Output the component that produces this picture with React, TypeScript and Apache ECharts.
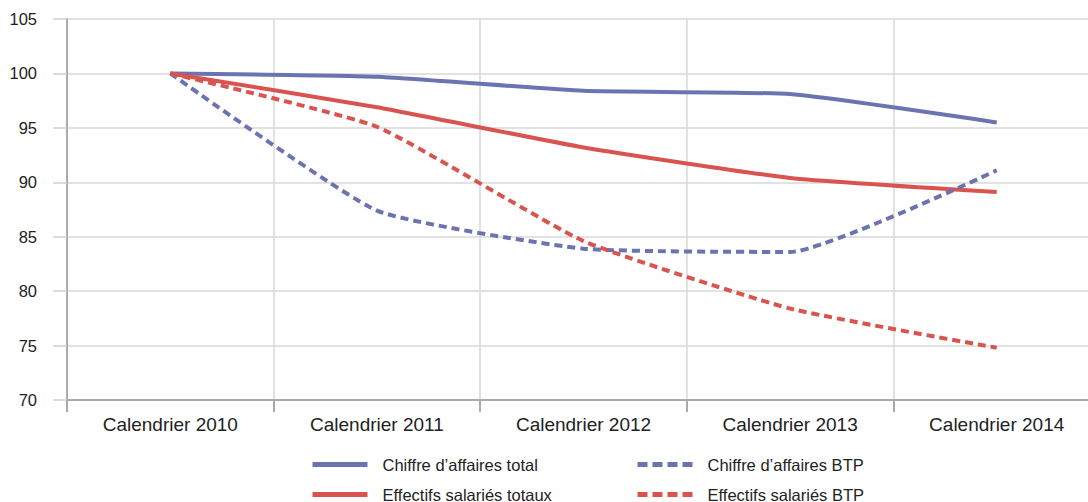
import React, { useEffect, useRef } from "react";
import * as echarts from "echarts";

const categories = ["Calendrier 2010", "Calendrier 2011", "Calendrier 2012", "Calendrier 2013", "Calendrier 2014"];
const caTotal = [100, 99.7, 98.4, 98.1, 95.5];
const effTotal = [100, 96.9, 93.2, 90.4, 89.1];
const caBTP = [100, 87.4, 83.9, 83.6, 91.1];
const effBTP = [100, 95.1, 84.6, 78.4, 74.8];

const names = ["Chiffre d’affaires total", "Effectifs salariés totaux", "Chiffre d’affaires BTP", "Effectifs salariés BTP"];
const BLUE = "#6b74b1";
const RED = "#d9544f";
const FONT = "Liberation Sans";

export default function App() {
  const ref = useRef<HTMLDivElement>(null);
  useEffect(() => {
    document.body.style.margin = "0";
    document.body.style.overflow = "hidden";
    const chart = echarts.init(ref.current!, null, { renderer: "svg" });
    const mkSeries = (name: string, data: number[], color: string, dashed: boolean) => ({
      name,
      type: "line",
      data,
      symbol: "none",
      smooth: 0.15,
      lineStyle: { color, width: 4, type: dashed ? [8, 5] : "solid", cap: "butt" },
      itemStyle: { color },
    });
    const mkLegend = (name: string, left: number, top: number, dashed: boolean) => ({
      data: [name],
      left,
      top,
      itemWidth: 55,
      itemHeight: 14,
      lineStyle: { width: 5, type: dashed ? [10, 5] : "solid" },
      itemStyle: { opacity: 0 },
      textStyle: { fontFamily: FONT, fontSize: 16.5, color: "#222", padding: [0, 0, 0, 10] },
      padding: 0,
      selectedMode: false,
    });
    chart.setOption({
      animation: false,
      grid: { left: 67, top: 19, right: 0, bottom: 102, containLabel: false },
      xAxis: {
        type: "category",
        data: categories,
        boundaryGap: true,
        axisLine: { lineStyle: { color: "#a9a9b0", width: 2 } },
        axisTick: { show: true, length: 12, lineStyle: { color: "#a9a9b0", width: 2 } },
        axisLabel: { fontFamily: FONT, fontSize: 19, color: "#222", margin: 15 },
        splitLine: { show: true, lineStyle: { color: "#d9d9d9", width: 1.5 } },
      },
      yAxis: {
        type: "value",
        min: 70,
        max: 105,
        interval: 5,
        axisLine: { show: true, lineStyle: { color: "#a9a9b0", width: 2 } },
        axisTick: { show: true, length: 14, lineStyle: { color: "#cfcfcf", width: 1.5 } },
        axisLabel: { fontFamily: FONT, fontSize: 16.5, color: "#222", margin: 30 },
        splitLine: { show: true, lineStyle: { color: "#d9d9d9", width: 1.5 } },
      },
      legend: [
        mkLegend(names[0], 310, 456, false),
        mkLegend(names[1], 310, 486, false),
        mkLegend(names[2], 635, 456, true),
        mkLegend(names[3], 635, 486, true),
      ],
      series: [
        mkSeries(names[0], caTotal, BLUE, false),
        mkSeries(names[1], effTotal, RED, false),
        mkSeries(names[2], caBTP, BLUE, true),
        mkSeries(names[3], effBTP, RED, true),
      ],
    });
    return () => chart.dispose();
  }, []);
  return (
    <div style={{ width: 1088, height: 502, overflow: "hidden" }}>
      <div ref={ref} style={{ width: 1100, height: 502 }} />
    </div>
  );
}
